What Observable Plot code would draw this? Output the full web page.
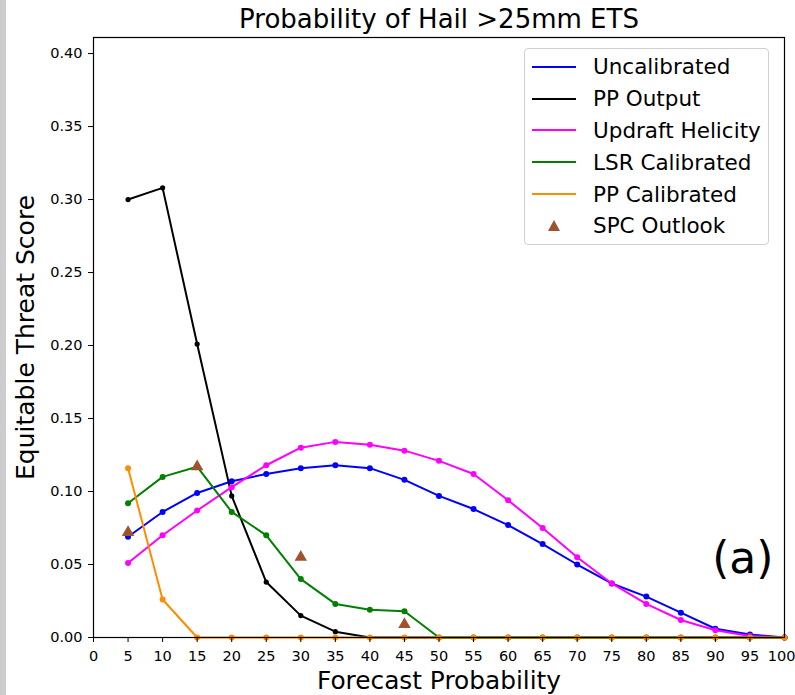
<!DOCTYPE html>
<html>
<head>
<meta charset="utf-8">
<script src="https://cdn.jsdelivr.net/npm/d3@7"></script>
<script src="https://cdn.jsdelivr.net/npm/@observablehq/plot@0.6"></script>
<style>
  html, body { margin: 0; padding: 0; background: #fff; }
  #wrap { position: relative; width: 795px; height: 695px; overflow: hidden; font-family: "DejaVu Sans", sans-serif; }
  #strip { position: absolute; left: 0; top: 0; width: 6px; height: 695px; background: #cdcdcd; }
  #legend { position: absolute; left: 524px; top: 48px; width: 245px; height: 197px; border: 1px solid #d0d0d0; border-radius: 4px; background: rgba(255,255,255,0.85); box-sizing: border-box; padding-top: 2px; }
  .row { height: 31.8px; display: flex; align-items: center; }
  .sw { width: 44px; margin-left: 7px; display: flex; align-items: center; justify-content: center; height: 100%; }
  .ln { width: 44px; height: 2px; }
  .lab { margin-left: 17px; font-size: 21.5px; color: #000; white-space: nowrap; }
</style>
</head>
<body>
<div id="wrap">
  <div id="strip"></div>
  <div id="chart"></div>
  <div id="legend"></div>
</div>
<script>
// ---- data ----
const probs = [5, 10, 15, 20, 25, 30, 35, 40, 45, 50, 55, 60, 65, 70, 75, 80, 85, 90, 95, 100];
const uncalibrated = [0.069, 0.086, 0.099, 0.107, 0.112, 0.116, 0.118, 0.116, 0.108, 0.097, 0.088, 0.077, 0.064, 0.050, 0.037, 0.028, 0.017, 0.006, 0.002, 0.000];
const ppOutput = [0.300, 0.308, 0.201, 0.097, 0.038, 0.015, 0.004, 0.000, 0.000, 0.000, 0.000, 0.000, 0.000, 0.000, 0.000, 0.000, 0.000, 0.000, 0.000, 0.000];
const updraftHelicity = [0.051, 0.070, 0.087, 0.103, 0.118, 0.130, 0.134, 0.132, 0.128, 0.121, 0.112, 0.094, 0.075, 0.055, 0.037, 0.023, 0.012, 0.005, 0.001, 0.000];
const lsrCalibrated = [0.092, 0.110, 0.117, 0.086, 0.070, 0.040, 0.023, 0.019, 0.018, 0.000, 0.000, 0.000, 0.000, 0.000, 0.000, 0.000, 0.000, 0.000, 0.000, 0.000];
const ppCalibrated = [0.116, 0.026, 0.000, 0.000, 0.000, 0.000, 0.000, 0.000, 0.000, 0.000, 0.000, 0.000, 0.000, 0.000, 0.000, 0.000, 0.000, 0.000, 0.000, 0.000];
const spcProbs = [5, 15, 30, 45];
const spcOutlook = [0.072, 0.117, 0.055, 0.009];
const xTicks = [0, 5, 10, 15, 20, 25, 30, 35, 40, 45, 50, 55, 60, 65, 70, 75, 80, 85, 90, 95, 100];
const yTicks = [0.00, 0.05, 0.10, 0.15, 0.20, 0.25, 0.30, 0.35, 0.40];
const seriesNames = ["Uncalibrated", "PP Output", "Updraft Helicity", "LSR Calibrated", "PP Calibrated"];
const seriesColors = ["#0000ff", "#000000", "#ff00ff", "#008000", "#ff8c00"];
const spcName = "SPC Outlook";
const spcColor = "#a0522d";
const titleText = "Probability of Hail >25mm ETS";
const xLabel = "Forecast Probability";
const yLabel = "Equitable Threat Score";
const panelLabel = "(a)";

// ---- build table ----
const seriesValues = [uncalibrated, ppOutput, updraftHelicity, lsrCalibrated, ppCalibrated];
const rows = [];
seriesNames.forEach((name, i) => {
  probs.forEach((p, j) => rows.push({series: name, x: p, y: seriesValues[i][j]}));
});
const spc = spcProbs.map((p, i) => ({x: p, y: spcOutlook[i]}));

const lineMarks = seriesNames.flatMap((name, i) => {
  const d = rows.filter(r => r.series === name);
  return [
    Plot.line(d, {x: "x", y: "y", stroke: seriesColors[i], strokeWidth: 2}),
    Plot.dot(d, {x: "x", y: "y", fill: seriesColors[i], r: name === "PP Output" ? 2.6 : 3})
  ];
});

const lastTick = xTicks[xTicks.length - 1];
const innerTicks = xTicks.slice(0, -1);

const chart = Plot.plot({
  width: 795,
  height: 695,
  marginLeft: 93,
  marginRight: 11,
  marginTop: 37,
  marginBottom: 58,
  style: {fontFamily: "DejaVu Sans, sans-serif", fontSize: "14.5px", color: "#000", background: "transparent"},
  x: {domain: [0, 100]},
  y: {domain: [0, 0.411]},
  marks: [
    ...lineMarks,
    Plot.dot(spc, {x: "x", y: "y", symbol: "triangle", fill: spcColor, r: 4.6}),
    Plot.frame({stroke: "#000", strokeWidth: 1.2}),
    Plot.axisX({ticks: innerTicks, tickSize: 5, tickPadding: 8, tickFormat: d => String(d), label: null, fontSize: 14.5}),
    Plot.axisX({ticks: [lastTick], tickSize: 5, tickPadding: 8, tickFormat: d => String(d), label: null, fontSize: 14.5, textAnchor: "end", dx: 11}),
    Plot.axisY({ticks: yTicks, tickSize: 5, tickPadding: 6, tickFormat: d3.format(".2f"), label: null, fontSize: 14.5}),
    Plot.text([titleText], {frameAnchor: "top", dy: -18, lineAnchor: "middle", textAnchor: "middle", fontSize: 26, text: d => d}),
    Plot.text([xLabel], {frameAnchor: "bottom", dy: 44, lineAnchor: "middle", textAnchor: "middle", fontSize: 24.8, text: d => d}),
    Plot.text([yLabel], {frameAnchor: "left", dx: -68, rotate: -90, lineAnchor: "middle", textAnchor: "middle", fontSize: 25, text: d => d}),
    Plot.text([panelLabel], {frameAnchor: "bottom-right", dx: -11, dy: -79, lineAnchor: "middle", textAnchor: "end", fontSize: 44, text: d => d})
  ]
});
document.getElementById("chart").appendChild(chart);

// ---- legend ----
const legend = document.getElementById("legend");
seriesNames.forEach((name, i) => {
  const row = document.createElement("div");
  row.className = "row";
  row.innerHTML = `<div class="sw"><div class="ln" style="background:${seriesColors[i]}"></div></div><div class="lab">${name}</div>`;
  legend.appendChild(row);
});
const srow = document.createElement("div");
srow.className = "row";
srow.innerHTML = `<div class="sw"><svg width="14" height="13" viewBox="0 0 14 13"><polygon points="7,1 13,12 1,12" fill="${spcColor}"/></svg></div><div class="lab">${spcName}</div>`;
legend.appendChild(srow);
</script>
</body>
</html>
